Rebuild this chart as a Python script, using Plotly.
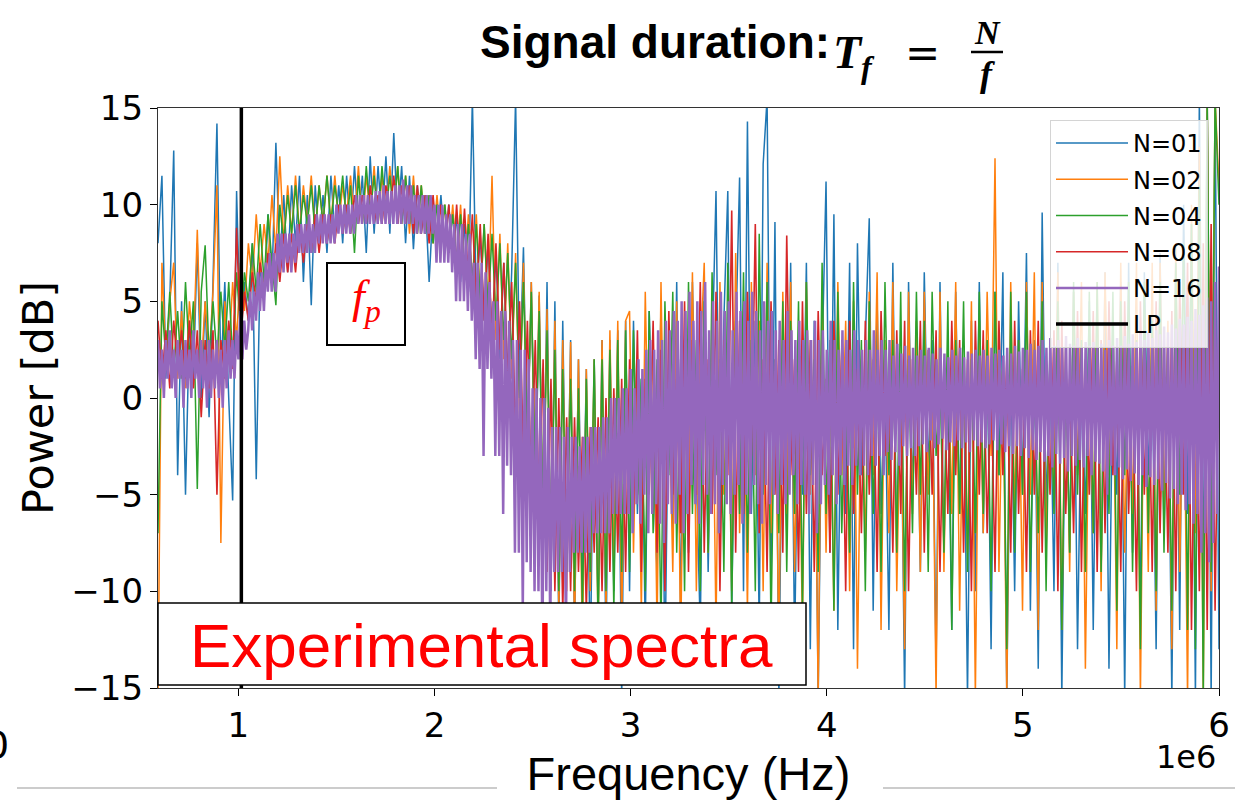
import numpy as np
import plotly.graph_objects as go

# ---------------- data (power in dB on uniformly spaced frequency bins) ----------------
F_MIN, F_MAX = 0.59e6, 6.0e6

# N=01 (blue)
n01 = [
    8, 11.5, 1, 5, 12.8, -4, 5, -5, 4, 1, 8, 0, 5, -1, 6,
    14.2, 1, 6, 0, -5.3, 10.7, 3, 6, 4, 8, -4.2, 7, 5, 9.5, 6,
    13.2, 7, 10.5, 6.5, 11, 8, 11.5, 6, 10.5, 4.8, 11, 8, 10.5, 7.5, 11.5,
    8.5, 11, 8, 11.5, 8.5, 12, 9, 11.5, 7.5, 12.5, 8.5, 12, 9, 12.5, 8.5,
    13.7, 9, 12, 8, 11.5, 7.7, 11, 8.5, 10.5, 6, 10, 8, 10.5, 7.5, 10,
    7, 9.5, 6, 9, 5.5, 15.5, 5, 8.5, 4, 8, 3, 7.5, 2, 7, 1,
    6.5, 15.5, 1, 7.8, -3, 6, -6, 5.3, -8, 6, -10, 5, -12, 4, -9,
    3, -12, 2, -10, 1.5, -14, 2, -11, 3, -13, 3, -10, 3.5, -15.5, 4,
    -10, 4, -6, 1, -12, 4.5, -3, -9, 5, -14, 2, -7, 6, -11, 3,
    -8, 6, -4, -12, 5.5, -9, 2, 10.7, -7, 4, 10.7, -11, 3, 11.4, -10,
    14.3, -6, 4, -12, 12.1, 15.5, -9, 9.1, -15.5, 3, -7, 7, -13, 2, -5,
    7, -13, 4, -15.5, 2, 11.2, -8, 9.5, -12, 3, -6, 7, -13, 8, -4,
    3, 9.3, -11, 5, -6, 1, -12, 7, -8, 2, -15.5, 6, -5, 3, -9,
    6.5, -4, 3, -14, 6, -8, 1, -12, 5.5, -6, 2, -15.5, 4, -10, 6,
    -7, 3, -13, 5.5, -4, 6.5, -15.5, 2, -10, 5, -5, 7.5, -11, 3, -14,
    9.6, -6, 2, -10, 7, -15.5, 3, -8, 5.5, -13, 1, -6, 5, -12, 4,
    -9, 6.5, -14, 2, -5, 6, -15.5, 7, -8, 3, -11, 6.5, -4, 2, -13,
    7.5, -7, 3, -15.5, 7, -12, 10, -6, 9, -15.5, 15.5, -10, 15.5, -15.5, 15.5,
    -13,
]

# N=02 (orange)
n02 = [
    -15.5, 7, 2, 5, 7, 1, 4.5, 0.5, 5, 2.5, 8.7, 1.5, 5, 2, 5.5,
    11, -7.5, 5, 2, 6, 3, 7, 4.5, 8, 6, 9.5, 6.5, 9, 7, 10.5,
    7.5, 12.5, 8, 11, 8.5, 11.5, 8.5, 11, 9, 11.5, 8.5, 11, 9, 11.5, 9,
    11.5, 9, 11, 9.5, 11.5, 9, 12, 9, 11.5, 9.5, 12, 9, 11.5, 9.5, 12,
    9.5, 12, 9, 11.5, 8.5, 11.5, 8.5, 11, 8.5, 10.5, 8, 10.5, 8, 10, 7.5,
    10, 7, 10, 6.5, 9.5, 6, 9.5, 5, 9, 4.5, 11.5, 3, 8.5, 2, 8,
    1, 7.5, -1, 7, -3, 6, -5, 5.5, -7, 4.6, -9, 4, -11, 3, -10,
    2.9, -12, 2, -13, 1.5, -10, 2, -12, 3, -11, 3.5, -9, 4, -12, 4,
    4.5, -8, 2, -11, 5.5, -5, 3, -12, 6, -7, 1, -9, 5, -13, 3,
    -6, 6.5, -10, 2, 7, -8, 4, -12, 6, -5, 2, -10, 7.5, -7, 3,
    -11, 6, -4, 4, -10, 7, -7, 2, -13, 5.5, -6, 6, -9, 1, -12,
    6, -5, 3, -15.5, 5.5, -8, 2, -11, 6, -4, 4, -10, 5, -14, 2,
    -8, 5.5, -4, 6.5, -12, 3, -7, 6, -10, 1, -13, 5.5, -6, 4, -9,
    5.5, -5, 2, -15.5, 5.5, -9, 3, -6, 6, -11, 2, -8, 5, -15.5, 4,
    -7, 5.5, -3, 12.4, -9, 2, -15.5, 6, -6, 3, -11, 6, -5, 6.5, -12,
    6, -8, 2, -5, 6.5, -12, 3, -9, 5.5, -4, 6, -14, 2, -7, 6,
    -10, 6.5, -4, 3, -13, 7, -8, 2, -6, 7, -15.5, 4, -9, 7, -11,
    7, -6, 4, -13, 8, -9, 3, -15.5, 10, -7, 13, -15.5, 15.5, -10, 15.5,
    11,
]

# N=04 (green)
n04 = [
    -7, 5, 2, 5.5, 1.5, 4.5, 1, 6, 2, 5, -4.7, 5.5, 7.9, 2, 5,
    2, 5.5, 2.5, 6, 2, 6.5, 3.5, 6.5, 5, 8, 5.5, 9, 6, 9.5, 7,
    4.8, 10, 8, 10.5, 8.5, 11, 8.5, 10.5, 9, 11, 8.5, 11, 9, 11.5, 9,
    11, 9.5, 11.5, 9, 11, 7.5, 11.5, 9, 12, 9.5, 11.5, 9, 12, 9.5, 11.5,
    9.5, 12, 9, 11.5, 9, 11, 8.5, 11, 8.5, 10.5, 8, 10, 8, 10, 7.5,
    9.5, 7, 9.5, 6.5, 9, 6, 9, 5, 9, 4.5, 8.5, 4, 8, 3, 7.5,
    2, 7, 0, 6, -2, 5.5, -4, 4.5, -6, 3.5, -8, 2.5, -10, 1.5, -9,
    1, -10, 0.5, -11, 1, -9, 2, -12, 2, -10, 2.5, -11, 3, -9, 3.5,
    -9, 3.5, -5, 1, -10, 4.5, -7, 2, -12, 5, -4, 5.5, -8, 2, -10,
    6, -6, 3, -10, 5, -8, 6.5, -4, 2, -9, 7, -11, 4, -6, 6.5,
    -8, 3, -10, 8.5, -5, 6, -12, 2, -7, 5, -9, 4, -6, 5, -11,
    6, -4, 2, -9, 7, -6, 3, -11, 5.5, -7, 1, -8, 6, -5, 3,
    -10, 5, -6, 2, -9, 6, -4, 3, -8, 5.5, -10, 2, -7, 5.5, -5,
    4, -9, 5.5, -3, 1, -8, 5, -12, 3, -6, 5, -9, 2, -7, 5.5,
    -6, 3, -10, 5.5, -4, 2, -13, 5.5, -8, 3, -5, 5.5, -9, 1, -7,
    5, -10, 3, -6, 5, -12, 2, -8, 6, -5, 3, -9, 5.5, -7, 6,
    -9, 2, -6, 5.5, -11, 5, -4, 6, -9, 3, -13, 6, -7, 4, -10,
    6, -8, 3, -11, 7, -5, 8, -12, 9, -13, 11, -15.5, 15.5, -9, 15.5,
    10,
]

# N=08 (red)
n08 = [
    4, 1, 3.5, 0.5, 4, 1.5, 3.5, 1, 4, 0.5, 3.5, -1, 3, 0.5, 3.5,
    -5, 3, 1, 4, 1.5, 8.8, 3, 5.5, 4, 6.5, 5, 7, 5.5, 7.5, 6,
    8, 6, 8.5, 6.5, 8.5, 6.5, 9, 7, 9, 7.5, 9.5, 7.5, 9.5, 8, 9.5,
    8, 10, 8.5, 10, 8.5, 10.5, 9, 10.5, 9, 11, 9, 10.5, 9, 11, 9.5,
    11.5, 9, 11, 9, 11, 8.5, 11, 8.5, 10.5, 8, 10.5, 8, 10, 7.5, 10,
    7, 10, 6.5, 9.8, 6, 9.5, 5, 9, 4, 8.5, 3, 8, 2.5, 7, 1,
    6, -2, 5, -3, 4, -5, 3, -6, 2, -9, 1, -10, 0, -11, -1,
    -10, -1, -9, -2, -11, -1.5, -8, -1, -10, 0, -9, 0.5, -8, 1, -9,
    2, -6, 3.5, -9, 1, -4, 4, -8, 2.5, -10, 4.5, -5, 1, -7, 5,
    -9, 3, -5, 6, -8, 2, -6, 5.5, -10, 3, -4, 9.7, -8, 4, -6,
    5.5, -3, 9, -7, 2, -9, 5, -5, 3, -8, 8.4, -4, 2, -9, 5,
    -6, 3, -9, 4.5, -4, 1, -8, 4, -5, 2.5, -10, 4, -6, 1.5, -7,
    4, -5, 2, -9, 4.5, -3, 1, -8, 3.5, -6, 4, -10, 2, -5, 4,
    -8, 2.5, -5, 3.5, -9, 1, -6, 4, -4, 3, -8, 2, -10, 4, -5,
    3.5, -7, 1, -9, 4, -4, 2, -8, 4, -6, 1.5, -9, 3.5, -5, 4,
    -8, 2, -5, 3.5, -10, 4, -6, 1, -7, 4.5, -9, 2, -5, 4.5, -9,
    3, -7, 5, -4, 2, -9, 5, -6, 1.5, -10, 5, -5, 3, -9, 5,
    -7, 2, -8, 4.5, -10, 6, -5, 7, -12, 3, -10, 8, -12, 9, -11,
    4,
]

# N=16 (purple) - finest frequency resolution
n16 = [
    3, 0.5, 2.5, 0, 3, 1, 3.5, 0.5, 2.5, 0, 3, 1, 2.5, -0.5, 3, 0.5, 2.5, 0, 3.5, 1, 2.5, 0, 3, 0.5, 2.5, -0.5, 3, 0, 2.5, 0.5,
    3, 0, 2.5, -0.5, 3, 0.5, 3.5, 1, 3, 1, 3.5, 2, 4.5, 2, 4, 2.5, 3.5, 5.5, 3.5, 5.5, 4, 6.5, 4.5, 6.5, 4.5, 7, 5.5, 7.5, 5.5, 7.5,
    5.5, 8.5, 6.5, 8.5, 6.5, 8.5, 7, 8.5, 6.5, 8.5, 7, 9, 7.5, 9, 7.5, 9, 7.5, 9.5, 7.5, 9, 7.5, 9.5, 8, 9.5, 8, 9.5, 8, 9.5, 8, 9.5,
    8, 10, 8.5, 10, 8.5, 10, 8.5, 10, 8.5, 10, 8.5, 10.5, 9, 10.5, 9, 10.5, 9, 10.5, 9, 10.5, 9, 10.7, 9, 10.7, 9, 11, 9, 10.7, 9, 10.7,
    9, 11, 9, 11, 9, 11.3, 9, 11, 9, 11, 9, 10.5, 8.5, 10.5, 8.5, 10.5, 8.5, 10.5, 8.5, 10.5, 8.5, 10, 7, 10, 7, 10, 7, 9.5, 7, 9.5,
    6.5, 9, 5, 9, 5, 9, 5, 8.5, 4.5, 8.5, 4, 7, 2, 7, 1.5, 7, -3, 6.5, 1.5, 6, 1, 5, -3, 5, -3, 4.5, -6, 4.5, -3.5, 4,
    -4, 3, -8, 3, -8, 2.5, -11, 2.5, -8.5, 2, -9, 0.5, -10, 0.5, -10, 0, -13, 0, -10, -0.5, -12, -1.5, -9, -1.5, -9, -1.5, -9, -2, -12, -1.5,
    -9, -2, -8, -2, -8, -2.5, -8, -2, -8, -2, -8, -1.5, -7, -1.5, -7, -1.5, -7, -1, -7, -1, -7, 0, -6, 0, -6, 0, -6, 0.5, -6, 0.5,
    -6, 1.5, -7, 0.5, -5.5, 2, -6.5, 1.5, -5, 2.5, -7, 3, -6, 2.5, -5.5, 3.5, -6.5, 3, -7.5, 4, -5.5, 3.5, -6, 4.5, -6.5, 4, -5, 5, -7, 4.5,
    -6, 5.5, -4.5, 4, -5.5, 5, -6.5, 4.5, -4.5, 6, -5, 3.5, -6, 5, -5.5, 4, -7, 5.5, -4.5, 4.5, -5.5, 5, -6, 3.5, -5, 5.5, -4.5, 4.5, -6.5, 5,
    -5, 4, -6, 5.5, -4.5, 4.5, -5.5, 3.5, -6.5, 5, -4.5, 4, -5.5, 4.5, -5, 3.5, -6, 4, -4.5, 3, -5.5, 4.5, -5, 3.5, -4, 3, -5.5, 4, -4.5, 3,
    -5, 3.5, -6, 3, -4.5, 4, -7, 3, -5.5, 3.5, -4.5, 2.5, -5, 4, -4, 3, -5.5, 2.5, -4, 3.5, -4.5, 3, -3.5, 2.5, -4.5, 3.5, -3.5, 3, -4, 2.5,
    -3.5, 3, -4, 2.5, -3, 3.5, -3.5, 2.5, -3, 3, -4, 2.5, -2.8, 3, -3.2, 2.2, -2.8, 2.8, -3.5, 2.3, -2.5, 2.7, -3, 2.2, -2.6, 2.6, -3, 2.2, -2.5, 2.5,
    -2.4, 2.2, -2.8, 2.6, -2.2, 2.3, -2.6, 2, -2.4, 2.6, -2.1, 2.3, -2.7, 2.1, -2.3, 2.5, -2.5, 2.2, -2.2, 2.6, -2.6, 2.1, -2.3, 2.4, -2.8, 2.3, -2.2, 2.5, -2.5, 2.2,
    -2.3, 2.5, -2.6, 2.2, -2.4, 2.6, -2.2, 2.3, -2.7, 2.5, -2.4, 2.2, -2.8, 2.6, -2.5, 2.3, -2.9, 2.7, -2.5, 2.4, -3, 2.6, -2.6, 2.5, -3.1, 2.8, -2.7, 2.5, -3.2, 2.7,
    -2.8, 3, -3.3, 2.6, -3, 3.1, -3.6, 2.7, -2.9, 3, -3.4, 2.6, -3.1, 3.2, -3.8, 2.8, -3, 2.7, -3.5, 3.1, -3.2, 2.6, -3.6, 2.9, -3, 2.7, -4, 2.9, -3.3, 2.6,
    -3.4, 2.8, -3.8, 2.5, -5, 3, -3.5, 2.7, -4, 3.1, -3.6, 2.7, -4.2, 3.2, -3.7, 2.8, -4.3, 3.3, -3.9, 2.9, -4.5, 3.3, -4, 3, -4.6, 3.4, -4.1, 3.1, -4.5, 3.5,
    -4.2, 3.3, -4.8, 3.7, -4.4, 3.4, -5.2, 3.8, -4.7, 3.6, -5.5, 4.1, -5, 3.8, -5.8, 4.2, -5.5, 4, -6.5, 4.6, -6, 4.3, -8, 4.8, -7, 5.2, -8.5, 5, -7.5, 6,
    -6, 6.8,
]

lp_freq = [1.015e6, 1.015e6]
lp_power = [-15, 15]

series_names = ["N=01", "N=02", "N=04", "N=08", "N=16"]
series_values = [n01, n02, n04, n08, n16]
series_colors = ["#1f77b4", "#ff7f0e", "#2ca02c", "#d62728", "#9467bd"]
series_widths = [1.5, 1.5, 1.5, 1.6, 2.5]

x_tick_vals = [1e6, 2e6, 3e6, 4e6, 5e6, 6e6]
x_tick_text = ["1", "2", "3", "4", "5", "6"]
y_tick_vals = [-15, -10, -5, 0, 5, 10, 15]
y_tick_text = ["\u221215", "\u221210", "\u22125", "0", "5", "10", "15"]

# ---------------- figure ----------------
W, H = 1235, 800
PL, PR, PT, PB = 158, 1219, 108, 688


def px(x):
    return (x - PL) / (PR - PL)


def py(y):
    return (PB - y) / (PB - PT)


fig = go.Figure()
for name, vals, color, lw in zip(series_names, series_values, series_colors, series_widths):
    freq = np.linspace(F_MIN, F_MAX, len(vals))
    fig.add_trace(go.Scatter(x=freq, y=vals, mode="lines", name=name, legendgroup=name,
                             line=dict(color=color, width=lw, simplify=False)))
fig.add_trace(go.Scatter(x=lp_freq, y=lp_power, mode="lines", name="LP", legendgroup="LP",
                         line=dict(color="black", width=3.5)))

axis_common = dict(showline=True, mirror=True, linecolor="#333333", linewidth=1.2,
                   ticks="outside", ticklen=7, tickwidth=1.2, tickcolor="black",
                   showgrid=False, zeroline=False, automargin=False,
                   tickfont=dict(family="DejaVu Sans", size=34, color="black"))

fig.update_layout(
    width=W, height=H,
    margin=dict(l=PL, r=W - PR, t=PT, b=H - PB),
    plot_bgcolor="white", paper_bgcolor="white",
    xaxis=dict(range=[F_MIN, F_MAX], tickvals=x_tick_vals, ticktext=x_tick_text,
               title=dict(text="Frequency (Hz)", standoff=14,
                          font=dict(family="Liberation Sans, Arial", size=47, color="black")),
               **axis_common),
    yaxis=dict(range=[-15, 15], tickvals=y_tick_vals, ticktext=y_tick_text,
               title=dict(text="Power [dB]", standoff=4,
                          font=dict(family="DejaVu Sans", size=43, color="black")),
               **axis_common),
    legend=dict(x=px(1208), y=py(120), xanchor="right", yanchor="top",
                bgcolor="rgba(255,255,255,0.82)", bordercolor="#d4d4d4", borderwidth=1,
                font=dict(family="DejaVu Sans", size=24, color="black"),
                itemwidth=72, traceorder="grouped", tracegroupgap=2),
    showlegend=True,
)

shapes = [
    # Experimental spectra box
    dict(type="rect", xref="paper", yref="paper", x0=px(158), x1=px(806), y0=py(685), y1=py(603),
         fillcolor="white", line=dict(color="black", width=1.5), layer="above"),
    # f_p box
    dict(type="rect", xref="paper", yref="paper", x0=px(327), x1=px(405), y0=py(345), y1=py(263),
         fillcolor="white", line=dict(color="black", width=2), layer="above"),
    # fraction bar in the title
    dict(type="line", xref="paper", yref="paper", x0=px(971), x1=px(1003), y0=py(52), y1=py(52),
         line=dict(color="black", width=2.5)),
    # slide separator lines
    dict(type="line", xref="paper", yref="paper", x0=px(17), x1=px(497), y0=py(788), y1=py(788),
         line=dict(color="#bbbbbb", width=1.5)),
    dict(type="line", xref="paper", yref="paper", x0=px(883), x1=px(1235), y0=py(788), y1=py(788),
         line=dict(color="#bbbbbb", width=1.5)),
]
fig.update_layout(shapes=shapes)

annotations = [
    dict(text="<b>Signal duration:</b>", x=px(478), y=py(42), xanchor="left", yanchor="middle",
         font=dict(family="Liberation Sans, Arial", size=46, color="black")),
    dict(text="<b><i>T</i></b><sub><b><i>f</i></b></sub>", x=px(831), y=py(56),
         xanchor="left", yanchor="middle",
         font=dict(family="Liberation Serif, serif", size=46, color="black")),
    dict(text="=", x=px(922), y=py(52), xanchor="center", yanchor="middle",
         font=dict(family="DejaVu Sans", size=42, color="black")),
    dict(text="<b><i>N</i></b>", x=px(987), y=py(33), xanchor="center", yanchor="middle",
         font=dict(family="Liberation Serif, serif", size=34, color="black")),
    dict(text="<b><i>f</i></b>", x=px(987), y=py(74), xanchor="center", yanchor="middle",
         font=dict(family="Liberation Serif, serif", size=36, color="black")),
    dict(text="<i>f</i><sub><i>p</i></sub>", x=px(366), y=py(300), xanchor="center", yanchor="middle",
         font=dict(family="Liberation Serif, serif", size=46, color="#ff0000")),
    dict(text="Experimental spectra", x=px(481), y=py(645), xanchor="center", yanchor="middle",
         font=dict(family="Liberation Sans, Arial", size=62, color="#ff0000")),
    dict(text="1e6", x=px(1218), y=py(757), xanchor="right", yanchor="middle",
         font=dict(family="DejaVu Sans", size=32, color="black")),
    dict(text="0", x=px(11), y=py(745), xanchor="right", yanchor="middle",
         font=dict(family="DejaVu Sans", size=38, color="black")),
]
for a in annotations:
    a.update(xref="paper", yref="paper", showarrow=False)
fig.update_layout(annotations=annotations)

fig.write_html("out.html")
